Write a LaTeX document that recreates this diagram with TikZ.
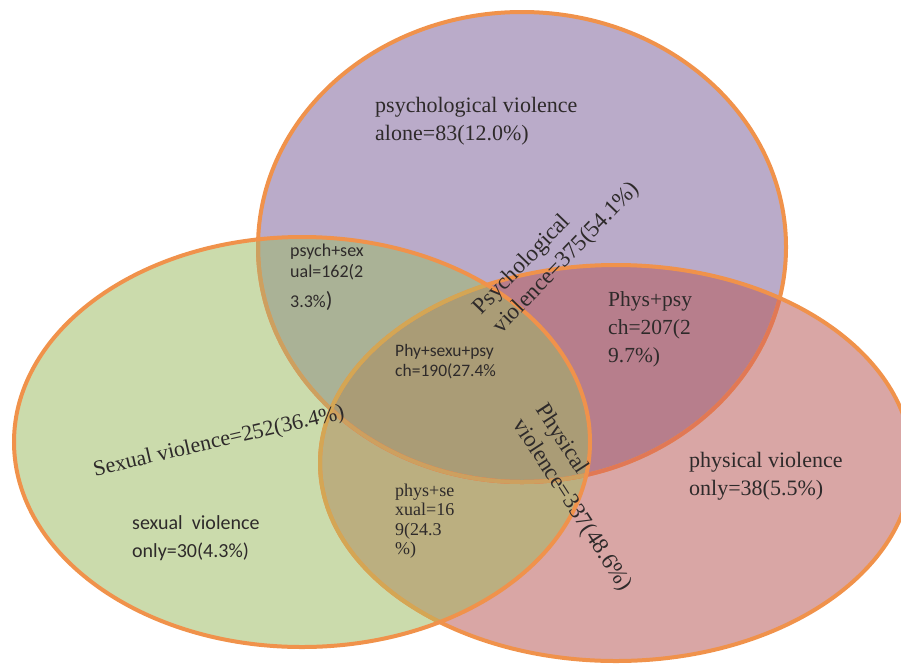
\documentclass[tikz,border=0pt]{standalone}
\usepackage{fontspec}
\setmainfont{Liberation Serif}
\newfontfamily\tms{Liberation Serif}
\newfontfamily\calib{Carlito}
\definecolor{cP}{RGB}{186,171,201}
\definecolor{cG}{RGB}{203,219,172}
\definecolor{cR}{RGB}{217,166,165}
\definecolor{cPG}{RGB}{170,178,150}
\definecolor{cPR}{RGB}{183,126,140}
\definecolor{cGR}{RGB}{187,175,128}
\definecolor{cPGR}{RGB}{170,156,118}
\definecolor{cOr}{RGB}{240,146,75}
\definecolor{cPinR}{RGB}{225,120,85}
\definecolor{cPinG}{RGB}{205,160,95}
\definecolor{cRinG}{RGB}{212,166,84}
\definecolor{txt}{RGB}{46,42,42}
\def\Pell{(522,247) ellipse (264pt and 235pt)}
\def\Gell{(302,442) ellipse (288pt and 205pt)}
\def\Rell{(616,463) ellipse (296pt and 198pt)}
\tikzset{
  bord/.style={line width=4pt},
  lbl/.style={inner sep=0pt, text=txt, align=left},
  serifA/.style={lbl, font=\tms\fontsize{22}{28}\selectfont},
  serifB/.style={lbl, font=\tms\fontsize{23}{27}\selectfont},
}
\begin{document}
\begin{tikzpicture}[x=1pt,y=-1pt]
\useasboundingbox (0,0) rectangle (901,667);
\clip (0,0) rectangle (901,667);
% region fills
\fill[cP] \Pell;
\fill[cR] \Rell;
\fill[cG] \Gell;
\begin{scope}\clip \Pell; \fill[cPG] \Gell; \end{scope}
\begin{scope}\clip \Pell; \fill[cPR] \Rell; \end{scope}
\begin{scope}\clip \Gell; \fill[cGR] \Rell; \end{scope}
\begin{scope}\clip \Pell; \clip \Gell; \fill[cPGR] \Rell; \end{scope}
% borders
\draw[bord, cOr] \Pell;
\begin{scope}\clip \Rell; \draw[bord, cPinR] \Pell; \end{scope}
\begin{scope}\clip \Gell; \draw[bord, cPinG] \Pell; \end{scope}
\draw[bord, cOr] \Rell;
\begin{scope}\clip \Gell; \draw[bord, cRinG] \Rell; \end{scope}
\draw[bord, cOr] \Gell;
% labels
\node[serifA, anchor=west] (psyalone) at (375,121) {psychological violence\\alone=83(12.0\%)};
\node[serifB, rotate=46] (psytot) at (557,249) {Psychological\\violence=375(54.1\%)};
\node[serifB, rotate=-57] (phytot) at (583,498) {Physical\\violence=337(48.6\%)};
\node[serifA, rotate=13] (sextot) at (219,442) {Sexual violence=252(36.4\%)};
\node[lbl, anchor=west, font=\calib\fontsize{20}{28}\selectfont] (sexonly) at (132,538) {sexual\ \ violence\\only=30(4.3\%)};
\node[lbl, anchor=west, font=\calib\fontsize{18}{21}\selectfont] (psysex) at (290,277) {psych+sex\\ual=162(2\\[9pt]3.3\%{\fontsize{22}{22}\selectfont)}};
\node[lbl, anchor=west, font=\calib\fontsize{17.5}{20}\selectfont] (all) at (395,362) {Phy+sexu+psy\\ch=190(27.4\%};
\node[lbl, anchor=west, font=\tms\fontsize{21.5}{28}\selectfont] (phypsy) at (608,329) {Phys+psy\\ch=207(2\\9.7\%)};
\node[lbl, anchor=west, font=\tms\fontsize{18}{19.5}\selectfont] (physex) at (395,521) {phys+se\\xual=16\\9(24.3\\\%)};
\node[serifA, anchor=west] (phyonly) at (689,476) {physical violence\\only=38(5.5\%)};
\end{tikzpicture}
\end{document}
